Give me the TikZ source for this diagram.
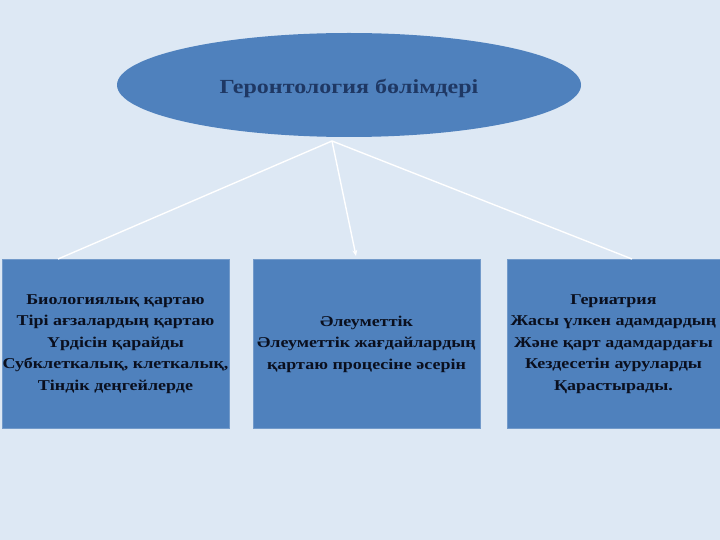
\documentclass[tikz,border=0pt]{standalone}
\usepackage{fontspec}
\setmainfont[FakeStretch=1.2]{Liberation Serif}
\usetikzlibrary{shapes.geometric,arrows.meta}
\definecolor{bg}{HTML}{DDE8F4}
\definecolor{ofblue}{HTML}{4F81BD}
\definecolor{navy}{HTML}{1F3864}
\definecolor{boxtext}{HTML}{0A0F1E}
\tikzset{
  topoval/.style={ellipse, fill=ofblue, minimum width=464pt, minimum height=104pt, inner sep=0pt,
    text=navy, font=\fontsize{20}{24}\selectfont\bfseries},
  catbox/.style={rectangle, fill=ofblue, draw=ofblue!80!white, line width=0.6pt, minimum height=169pt,
    inner sep=0pt, align=center, text=boxtext, font=\fontsize{15}{21.5}\selectfont\bfseries},
  link/.style={draw=white, line width=1.4pt},
}
\begin{document}
\begin{tikzpicture}[x=1pt,y=-1pt]
\useasboundingbox (0,0) rectangle (720,540);
\fill[bg] (0,0) rectangle (720,540);
\node[topoval] (top) at (349,85) {\raisebox{-8.5pt}[0pt][0pt]{Геронтология бөлімдері}};
\coordinate (hub) at (332,141);
\coordinate (lend) at (58,259);
\coordinate (rend) at (632,259);
\node[catbox, minimum width=227pt] (bio) at (115.5,344) {Биологиялық қартаю\\Тірі ағзалардың қартаю\\Үрдісін қарайды\\Субклеткалық, клеткалық,\\Тіндік деңгейлерде};
\node[catbox, minimum width=227pt] (soc) at (366.5,344) {Әлеуметтік\\Әлеуметтік жағдайлардың\\қартаю процесіне әсерін};
\node[catbox, minimum width=213pt] (ger) at (613.5,344) {Гериатрия\\Жасы үлкен адамдардың\\Және қарт адамдардағы\\Кездесетін ауруларды\\Қарастырады.};
\draw[link] (hub) -- (lend);
\draw[link] (hub) -- (rend);
\draw[link, -{Stealth[length=6pt,width=5pt]}] (hub) -- (356,256);
\end{tikzpicture}
\end{document}
